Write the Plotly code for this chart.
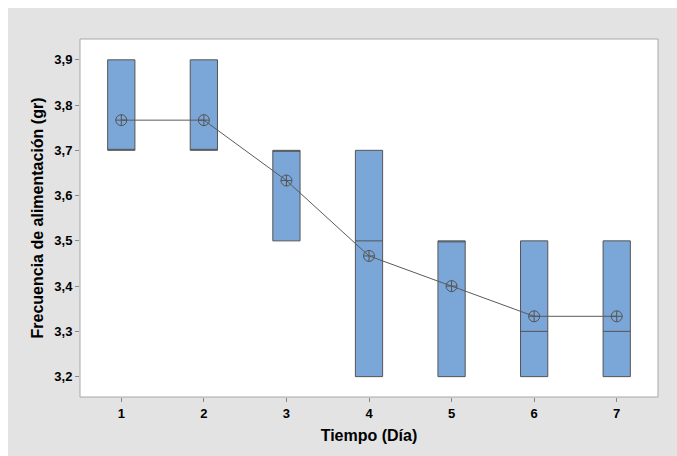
import plotly.graph_objects as go

dias = [1, 2, 3, 4, 5, 6, 7]
q1 = [3.7, 3.7, 3.5, 3.2, 3.2, 3.2, 3.2]
mediana = [3.7, 3.7, 3.7, 3.5, 3.5, 3.3, 3.3]
q3 = [3.9, 3.9, 3.7, 3.7, 3.5, 3.5, 3.5]
media = [3.7667, 3.7667, 3.6333, 3.4667, 3.4, 3.3333, 3.3333]
y_ticks = [3.2, 3.3, 3.4, 3.5, 3.6, 3.7, 3.8, 3.9]

FONT = "Liberation Sans, Arial, sans-serif"

fig = go.Figure()
fig.add_trace(go.Box(
    x=dias, q1=q1, median=mediana, q3=q3,
    lowerfence=q1, upperfence=q3,
    width=0.33, whiskerwidth=0, boxpoints=False,
    fillcolor="#7ba6d8", line=dict(color="#555555", width=1),
    showlegend=False, hoverinfo="skip",
))
fig.add_trace(go.Scatter(
    x=dias, y=media, mode="lines+markers",
    line=dict(color="#5a5a5a", width=1),
    marker=dict(symbol="circle-cross-open", size=11, color="#555555", line=dict(width=1)),
    showlegend=False,
))

fig.update_layout(
    width=677, height=456,
    margin=dict(l=80, r=19, t=39, b=59),
    paper_bgcolor="white", plot_bgcolor="white",
    separators=",.",
    font=dict(family=FONT, color="black"),
    shapes=[
        dict(type="rect", xref="paper", yref="paper", x0=-0.1246, x1=1.04, y0=-0.17, y1=1.0866,
             fillcolor="#e3e3e3", line=dict(width=0), layer="below"),
        dict(type="rect", xref="paper", yref="paper", x0=0, x1=1, y0=0, y1=1,
             fillcolor="white", line=dict(color="#a8a8a8", width=1), layer="below"),
    ],
    xaxis=dict(
        range=[0.5, 7.5], tickvals=dias, ticktext=[str(d) for d in dias],
        ticks="outside", ticklen=4, tickcolor="#888888",
        showgrid=False, zeroline=False, showline=False,
        tickfont=dict(size=13, weight="bold", family=FONT),
        title=dict(text="Tiempo (Día)", font=dict(size=16, weight="bold", family=FONT), standoff=10),
    ),
    yaxis=dict(
        range=[3.155, 3.946], tickvals=y_ticks, tickformat=".1f",
        ticks="outside", ticklen=4, tickcolor="#888888",
        showgrid=False, zeroline=False, showline=False,
        tickfont=dict(size=13, weight="bold", family=FONT),
        title=dict(text="Frecuencia de alimentación (gr)", font=dict(size=16, weight="bold", family=FONT), standoff=6),
    ),
)

fig.write_html("out.html")
